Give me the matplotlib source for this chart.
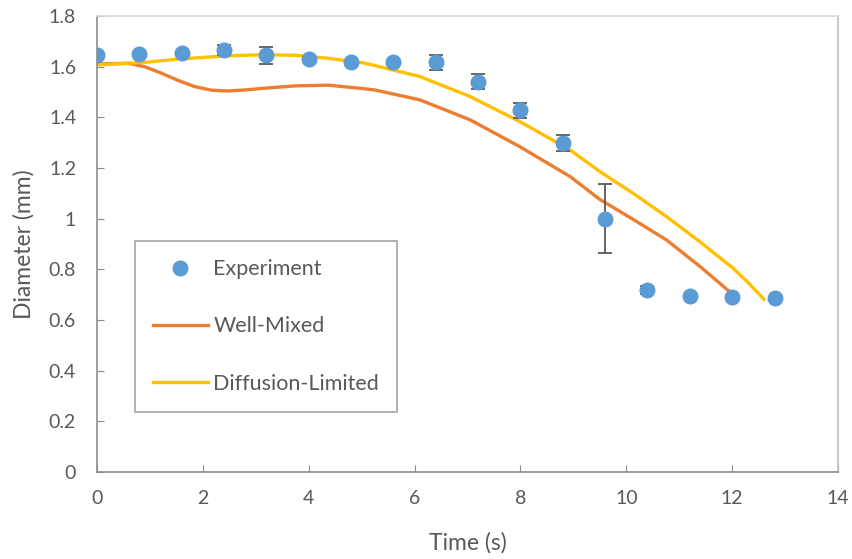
import matplotlib
matplotlib.use("Agg")
import matplotlib.pyplot as plt

# experiment data
t_exp = [0, 0.8, 1.6, 2.4, 3.2, 4.0, 4.8, 5.6, 6.4, 7.2, 8.0, 8.8, 9.6, 10.4, 11.2, 12.0, 12.8]
d_exp = [1.645, 1.648, 1.652, 1.665, 1.645, 1.63, 1.618, 1.62, 1.617, 1.541, 1.428, 1.298, 1.0, 0.718, 0.696, 0.691, 0.688]
err_exp = [0, 0, 0, 0.02, 0.033, 0, 0, 0, 0.03, 0.029, 0.029, 0.032, 0.135, 0.015, 0, 0, 0]

# model curves
t_wm = [0, 0.6, 0.9, 1.22, 1.54, 1.85, 2.17, 2.48, 2.8, 3.11, 3.74, 4.37, 5.0, 5.25, 6.1, 7.05, 7.99, 8.94, 9.5, 10.13, 10.76, 11.4, 12.0]
d_wm = [1.611, 1.613, 1.6, 1.574, 1.545, 1.521, 1.507, 1.504, 1.508, 1.514, 1.524, 1.527, 1.514, 1.508, 1.469, 1.39, 1.284, 1.166, 1.076, 0.997, 0.916, 0.81, 0.703]

t_dl = [0, 0.91, 1.54, 2.48, 3.11, 3.74, 4.37, 5.0, 5.2, 6.1, 7.05, 7.99, 8.94, 9.5, 10.13, 10.76, 11.39, 12.02, 12.3, 12.6]
d_dl = [1.607, 1.617, 1.63, 1.643, 1.647, 1.645, 1.633, 1.616, 1.607, 1.561, 1.482, 1.383, 1.271, 1.186, 1.1, 1.008, 0.909, 0.804, 0.748, 0.682]

gray = "#595959"
plt.rcParams["font.family"] = ["Lato", "DejaVu Sans"]

fig = plt.figure(figsize=(8.52, 5.59), dpi=100)
ax = fig.add_axes([0.1138, 0.1556, 0.8698, 0.8158])

ax.plot(t_wm, d_wm, color="#ED7D31", lw=2.4, label="Well-Mixed", zorder=2)
ax.plot(t_dl, d_dl, color="#FFC000", lw=2.4, label="Diffusion-Limited", zorder=2)
ax.errorbar(t_exp, d_exp, yerr=err_exp, fmt="none",
            ecolor=gray, elinewidth=1.3, capsize=5, capthick=1.3, zorder=3)
ax.plot(t_exp, d_exp, "o", color="#5B9BD5", ms=10.5, label="Experiment", zorder=4)

ax.set_xlim(0, 14)
ax.set_ylim(0, 1.8)
ax.set_xticks(range(0, 15, 2))
ax.set_yticks([0, 0.2, 0.4, 0.6, 0.8, 1, 1.2, 1.4, 1.6, 1.8])
ax.set_yticklabels(["0", "0.2", "0.4", "0.6", "0.8", "1", "1.2", "1.4", "1.6", "1.8"])
ax.tick_params(direction="in", length=5, color="#8c8c8c", labelcolor=gray, labelsize=14)
ax.tick_params(axis="x", pad=13)
ax.tick_params(axis="y", pad=15)
for s in ax.spines.values():
    s.set_color("#8c8c8c")
    s.set_linewidth(1.2)
ax.spines["top"].set_color("#d9d9d9")
ax.spines["right"].set_color("#bfbfbf")

ax.set_xlabel("Time (s)", fontsize=16.5, color=gray, labelpad=18)
ax.set_ylabel("Diameter (mm)", fontsize=16.5, color=gray, labelpad=10)

h, l = ax.get_legend_handles_labels()
order = [2, 0, 1]
leg = ax.legend([h[i] for i in order], [l[i] for i in order],
                loc="lower left", bbox_to_anchor=(0.051, 0.132),
                borderaxespad=0, fancybox=False, edgecolor="#8c8c8c",
                fontsize=15.5, labelspacing=1.73, handlelength=2.55,
                handletextpad=0.25, borderpad=0.85, labelcolor=gray)
leg.get_frame().set_linewidth(1.2)

fig.savefig("out.png", dpi=100)
